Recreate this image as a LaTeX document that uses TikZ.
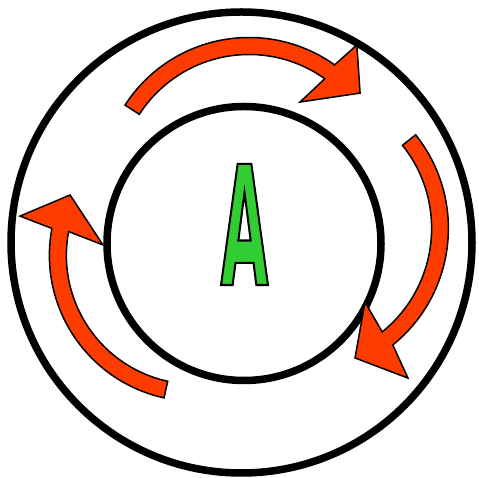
\documentclass[tikz,border=0pt]{standalone}
\usepackage{fontspec}
\setmainfont{DejaVu Sans}
\newfontfamily\letterfont[FakeStretch=0.37]{DejaVu Sans}
\definecolor{arrowred}{RGB}{255,60,0}
\definecolor{agreen}{RGB}{50,205,50}
\tikzset{
  ring/.style={circle, draw=black, line width=7.5pt, inner sep=0pt},
  redarrow/.style={fill=arrowred, draw=black, line width=1.5pt, line join=miter},
  bigletter/.style={inner sep=0pt, font=\letterfont\bfseries\fontsize{166}{166}\selectfont}
}
\newcommand\outlinedletter[1]{{\color{agreen}\special{pdf:literal direct 2 Tr 2 w 0 G}#1\special{pdf:literal direct 0 Tr}}}
\begin{document}
\begin{tikzpicture}[x=1pt,y=1pt]
\useasboundingbox (0,0) rectangle (479,478);
\fill[white] (0,0) rectangle (479,478);
% rings
\node[ring, minimum size=461pt] (outer) at (241.5,235.5) {};
\node[ring, minimum size=274pt] (inner) at (244,234.5) {};
% top arrow
\draw[redarrow, shift={(249,293)}]
  (147.2:147.5) arc[start angle=147.2, end angle=54.5, radius=147.5]
  -- (52.4:176.8) -- (39.6:144.2) -- (58.4:97.4)
  -- (54.5:130.5) arc[start angle=54.5, end angle=147.2, radius=130.5] -- cycle;
% right arrow
\draw[redarrow, shift={(298.4,249.6)}]
  (38.6:150) arc[start angle=38.6, end angle=-51, radius=150]
  -- (-53.8:185.5) -- (-66.4:141.4) -- (-47.9:99.3)
  -- (-51:133.2) arc[start angle=-51, end angle=38.6, radius=133.2] -- cycle;
% left arrow
\draw[redarrow, shift={(195.4,222.7)}]
  (257.6:146) arc[start angle=257.6, end angle=169.4, radius=146]
  -- (167.4:179.7) -- (154.3:139.1) -- (173.6:93)
  -- (169.4:129) arc[start angle=169.4, end angle=257.6, radius=129] -- cycle;
% letter
\node[bigletter] (letter) at (244.5,253.5) {\outlinedletter{A}};
\end{tikzpicture}
\end{document}
